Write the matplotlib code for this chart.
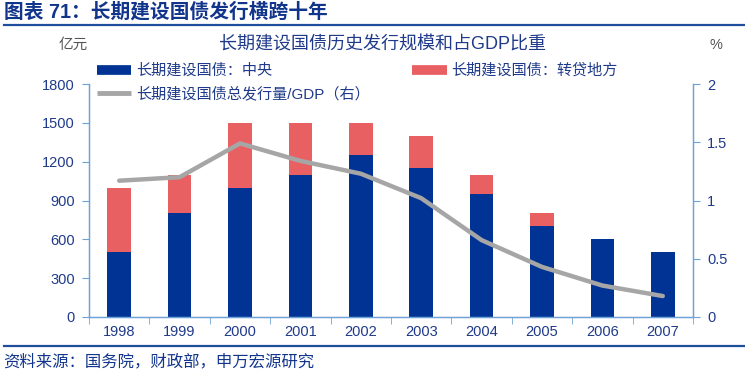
import numpy as np
import matplotlib
matplotlib.use("Agg")
import matplotlib.pyplot as plt
from matplotlib.lines import Line2D

plt.rcParams['font.family'] = ['Liberation Sans', 'Noto Sans CJK SC', 'DejaVu Sans']

# data
years = ['1998', '1999', '2000', '2001', '2002', '2003', '2004', '2005', '2006', '2007']
central = [500, 800, 1000, 1100, 1250, 1150, 950, 700, 600, 500]
local = [500, 300, 500, 400, 250, 250, 150, 100, 0, 0]
ratio_gdp = [1.17, 1.20, 1.49, 1.34, 1.23, 1.02, 0.66, 0.43, 0.27, 0.18]

left_ticks = [0, 300, 600, 900, 1200, 1500, 1800]
right_ticks = [0, 0.5, 1, 1.5, 2]
right_labels = ['0', '0.5', '1', '1.5', '2']

# colours
BLUE = '#003394'
RED = '#E86062'
GREY = '#A6A6A6'
TXT = '#1F3A8A'
SPINE = '#6FA3D8'

W, H = 745, 375
fig = plt.figure(figsize=(W / 100, H / 100), dpi=100)

# axes box in pixel coords
x0, x1, ytop, ybot = 89, 693, 84, 317
ax = fig.add_axes([x0 / W, 1 - ybot / H, (x1 - x0) / W, (ybot - ytop) / H])
x = np.arange(len(years))
bw = 0.39
ax.bar(x, central, bw, color=BLUE, zorder=2)
ax.bar(x, local, bw, bottom=central, color=RED, zorder=2)
ax.set_xlim(-0.5, len(years) - 0.5)
ax.set_ylim(0, 1800)
ax.set_yticks(left_ticks)
ax.set_xticks(x)
ax.set_xticklabels(years)
ax.set_xticks(np.arange(-0.5, len(years), 1), minor=True)
ax.tick_params(axis='x', which='major', length=0, pad=6, labelsize=10.5, labelcolor=TXT)
ax.tick_params(axis='x', which='minor', length=5, color=SPINE, direction='out')
ax.tick_params(axis='y', length=5, color=SPINE, labelsize=10.5, labelcolor=TXT, pad=5)
ax.spines['top'].set_visible(False)
for s in ['left', 'right', 'bottom']:
    ax.spines[s].set_color(SPINE)
    ax.spines[s].set_linewidth(1.0)

ax2 = ax.twinx()
ax2.plot(x, ratio_gdp, color=GREY, lw=3.2, zorder=3, solid_capstyle='round')
ax2.set_ylim(0, 2)
ax2.set_yticks(right_ticks)
ax2.set_yticklabels(right_labels)
ax2.tick_params(axis='y', length=5, color=SPINE, labelsize=10.5, labelcolor=TXT, pad=5)
ax2.spines['top'].set_visible(False)
for s in ['left', 'right', 'bottom']:
    ax2.spines[s].set_color(SPINE)

# legend
handles = [
    Line2D([], [], color=BLUE, lw=7, solid_capstyle='butt'),
    Line2D([], [], color=GREY, lw=3.5, solid_capstyle='butt'),
    Line2D([], [], color=RED, lw=7, solid_capstyle='butt'),
]
labels = ['长期建设国债：中央', '长期建设国债总发行量/GDP（右）', '长期建设国债：转贷地方']
fig.legend(handles, labels, ncol=2, loc='upper left', bbox_to_anchor=(89 / W, 1 - 56 / H),
           frameon=False, fontsize=10.9, handlelength=2.3, handletextpad=0.3,
           columnspacing=2.8, labelspacing=0.55, labelcolor=TXT, borderpad=0)

# chart texts
fig.text(382 / W, 1 - 45 / H, '长期建设国债历史发行规模和占GDP比重', ha='center', va='center',
         fontsize=13, color=TXT)
fig.text(73 / W, 1 - 45 / H, '亿元', ha='center', va='center', fontsize=10.5, color='#555555')
fig.text(716 / W, 1 - 45 / H, '%', ha='center', va='center', fontsize=10.5, color='#555555')

# header / footer
fig.text(4 / W, 1 - 12 / H, '图表 71：长期建设国债发行横跨十年', ha='left', va='center',
         fontsize=14.2, fontweight='bold', color='#12358C')
fig.add_artist(Line2D([4 / W, 1], [1 - 25 / H, 1 - 25 / H], color='#1F4E9C', lw=1.6))
fig.add_artist(Line2D([4 / W, 1], [1 - 346 / H, 1 - 346 / H], color='#1F4E9C', lw=1.6))
fig.text(3 / W, 1 - 362 / H, '资料来源：国务院，财政部，申万宏源研究', ha='left', va='center',
         fontsize=11.8, color='#12358C')

fig.savefig('out.png', dpi=100)
